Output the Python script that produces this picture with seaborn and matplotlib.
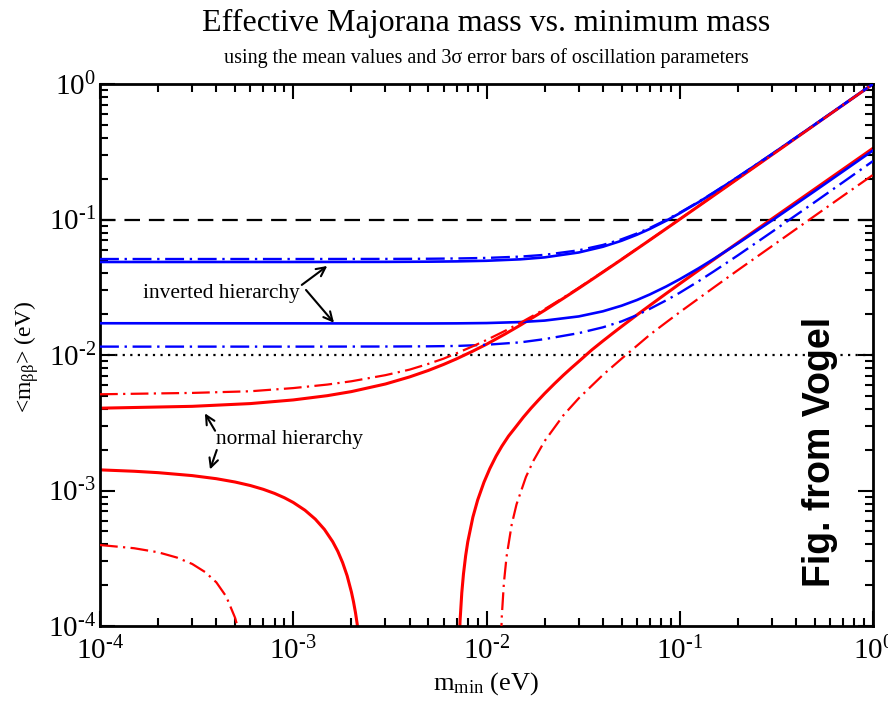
import math
import matplotlib
matplotlib.use("Agg")
import matplotlib.pyplot as plt
from matplotlib.ticker import FuncFormatter, LogLocator
import seaborn as sns

sns.set_theme(style="ticks")
plt.rcParams.update({
    "font.family": ["Liberation Serif", "DejaVu Serif"],
    "mathtext.fontset": "custom",
    "mathtext.rm": "Liberation Serif",
    "mathtext.it": "Liberation Serif:italic",
    "mathtext.bf": "Liberation Serif:bold",
    "axes.unicode_minus": False,
    "text.color": "black",
    "axes.labelcolor": "black",
    "xtick.color": "black",
    "ytick.color": "black",
    "axes.edgecolor": "black",
})

# ---- inverted hierarchy (blue) ----
m_ih = [1e-4, 1e-3, 3e-3, 5e-3, 7e-3, 1e-2, 1.5e-2, 2e-2, 3e-2, 4e-2, 5e-2,
        6e-2, 7e-2, 8.5e-2, 0.1, 0.125, 0.15, 0.2, 0.3, 0.5, 0.7, 1.0]
ih_max = [0.04858, 0.04859, 0.04867, 0.04884, 0.04908, 0.0496, 0.05084, 0.05254,
          0.0571, 0.06293, 0.06971, 0.0772, 0.0852, 0.0979, 0.1112, 0.1341,
          0.1577, 0.2058, 0.3039, 0.5024, 0.7017, 1.0012]
ih_max_3s = [0.05109, 0.0511, 0.05118, 0.05133, 0.05157, 0.05206, 0.05324, 0.05486,
             0.05925, 0.06488, 0.07148, 0.0788, 0.08666, 0.09917, 0.1123, 0.135,
             0.1585, 0.2064, 0.3043, 0.5026, 0.7019, 1.0013]
ih_min = [0.01715, 0.01712, 0.01709, 0.01709, 0.01712, 0.01721, 0.0175, 0.01795,
          0.01926, 0.02101, 0.02311, 0.02545, 0.02798, 0.03201, 0.03625, 0.04359,
          0.05117, 0.06665, 0.09828, 0.16235, 0.2267, 0.3234]
ih_min_3s = [0.01153, 0.01153, 0.01155, 0.01159, 0.01166, 0.0119, 0.0124, 0.0131,
             0.0145, 0.0160, 0.0177, 0.0197, 0.0219, 0.0253, 0.0288, 0.0350,
             0.0414, 0.0544, 0.0810, 0.1345, 0.1885, 0.270]

# ---- normal hierarchy (red) ----
m_nh = [1e-4, 3e-4, 6e-4, 1e-3, 1.5e-3, 2e-3, 3e-3, 4e-3, 5e-3, 6e-3, 7e-3,
        8.5e-3, 1e-2, 1.25e-2, 1.5e-2, 2e-2, 2.5e-2, 3e-2, 4e-2, 5e-2, 7e-2,
        0.1, 0.15, 0.2, 0.3, 0.5, 0.7, 1.0]
nh_max = [0.00405, 0.00418, 0.00438, 0.00466, 0.00501, 0.00537, 0.00611, 0.00689,
          0.00769, 0.00852, 0.00937, 0.01068, 0.0120, 0.0143, 0.01663, 0.02138,
          0.0262, 0.03105, 0.04086, 0.05071, 0.07054, 0.1004, 0.1503, 0.2002,
          0.3001, 0.5001, 0.7, 1.0]
nh_max_3s = [0.00513, 0.00525, 0.0054, 0.0057, 0.00605, 0.0064, 0.0071, 0.0078,
             0.0086, 0.0094, 0.0103, 0.0116, 0.0129, 0.0151, 0.0173, 0.0218,
             0.0265, 0.0313, 0.0411, 0.0509, 0.0707, 0.1006, 0.1505, 0.2004,
             0.3003, 0.5003, 0.7002, 1.0]

# lower bound: falls to zero, then rises again (two branches each)
m_nh_min_a = [1e-4, 1.5e-4, 2e-4, 3e-4, 4e-4, 5e-4, 6e-4, 7e-4, 8e-4, 9e-4,
              1e-3, 1.15e-3, 1.3e-3, 1.45e-3, 1.6e-3, 1.7e-3, 1.8e-3, 1.9e-3,
              2.0e-3, 2.05e-3, 2.1e-3, 2.15e-3, 2.2e-3, 2.25e-3, 2.3e-3,
              2.34e-3, 2.36e-3]
nh_min_a = [1.42e-3, 1.387e-3, 1.354e-3, 1.288e-3, 1.222e-3, 1.155e-3, 1.088e-3,
            1.02e-3, 0.952e-3, 0.884e-3, 0.816e-3, 0.715e-3, 0.615e-3, 0.516e-3,
            0.419e-3, 0.356e-3, 0.294e-3, 0.235e-3, 0.178e-3, 0.151e-3,
            0.125e-3, 0.1e-3, 0.076e-3, 0.053e-3, 0.031e-3, 0.014e-3, 0.006e-3]
m_nh_min_b = [7.05e-3, 7.1e-3, 7.2e-3, 7.3e-3, 7.45e-3, 7.6e-3, 7.8e-3, 8.0e-3,
              8.5e-3, 9.0e-3, 9.7e-3, 1.04e-2, 1.12e-2, 1.2e-2, 1.3e-2, 1.4e-2,
              1.55e-2, 1.7e-2, 1.85e-2, 2.0e-2, 2.25e-2, 2.5e-2, 2.75e-2, 3.0e-2,
              3.5e-2, 4e-2, 4.5e-2, 5e-2, 6e-2, 7e-2, 8.5e-2, 0.1, 0.125, 0.15,
              0.2, 0.3, 0.5, 0.7, 1.0]
nh_min_b = [5e-6, 2.2e-5, 6.6e-5, 1.1e-4, 1.76e-4, 2.42e-4, 3.3e-4, 4.18e-4,
            6.35e-4, 8.5e-4, 1.15e-3, 1.45e-3, 1.79e-3, 2.12e-3, 2.52e-3, 2.88e-3,
            3.47e-3, 4.05e-3, 4.62e-3, 5.2e-3, 6.15e-3, 7.1e-3, 8.03e-3, 8.95e-3,
            0.01088, 0.01268, 0.01446, 0.01623, 0.01974, 0.02322, 0.0284,
            0.03355, 0.0421, 0.0506, 0.0675, 0.1011, 0.1681, 0.2351, 0.3355]

m_nh_min3_a = [1e-4, 1.5e-4, 2e-4, 2.5e-4, 3e-4, 3.5e-4, 4e-4, 4.5e-4, 5e-4,
               5.25e-4, 5.5e-4, 5.75e-4, 5.9e-4, 6.1e-4]
nh_min3_a = [3.96e-4, 3.75e-4, 3.5e-4, 3.2e-4, 2.87e-4, 2.5e-4, 2.1e-4, 1.65e-4,
             1.15e-4, 9e-5, 6.5e-5, 3.8e-5, 2e-5, 3e-6]
m_nh_min3_b = [1.16e-2, 1.18e-2, 1.2e-2, 1.23e-2, 1.27e-2, 1.35e-2, 1.43e-2, 1.6e-2,
               1.75e-2, 2e-2, 2.5e-2, 3e-2, 4e-2, 5e-2, 6e-2, 7e-2, 8.5e-2, 0.1,
               0.15, 0.2, 0.3, 0.5, 0.7, 1.0]
nh_min3_b = [3e-6, 5.7e-5, 1.18e-4, 2.07e-4, 3.25e-4, 5.6e-4, 7.9e-4, 1.26e-3,
             1.66e-3, 2.32e-3, 3.59e-3, 4.79e-3, 7.12e-3, 9.39e-3, 0.0117, 0.0141,
             0.0174, 0.0207, 0.0315, 0.0423, 0.0636, 0.1065, 0.1495, 0.2135]

# experimental sensitivity levels
sens_dashed = 0.1
sens_dotted = 0.01

W, H = 888, 701
fig = plt.figure(figsize=(W / 100, H / 100), dpi=100)
ax = fig.add_axes([100 / W, 1 - 626 / H, 773 / W, 542 / H])

BLUE = "#0000ff"
RED = "#ff0000"
dashdot = (0, (8, 2.4, 1, 2.4))

def curve(x, y, color, lw, ls="-", z=2):
    sns.lineplot(x=x, y=y, ax=ax, color=color, lw=lw, linestyle=ls,
                 estimator=None, sort=False, zorder=z)

curve(m_nh, nh_max, RED, 2.2, z=2)
curve(m_nh_min_a, nh_min_a, RED, 2.2, z=2)
curve(m_nh_min_b, nh_min_b, RED, 2.2, z=2)
curve(m_ih, ih_max, BLUE, 1.9, z=3)
curve(m_ih, ih_min, BLUE, 1.9, z=3)
curve(m_ih, ih_max_3s, BLUE, 1.7, dashdot, z=3)
curve(m_ih, ih_min_3s, BLUE, 1.7, dashdot, z=3)
curve(m_nh, nh_max_3s, RED, 1.6, dashdot, z=4)
curve(m_nh_min3_a, nh_min3_a, RED, 1.6, dashdot, z=4)
curve(m_nh_min3_b, nh_min3_b, RED, 1.6, dashdot, z=4)

ax.axhline(sens_dashed, color="black", lw=1.6, linestyle=(0, (7, 4)), zorder=1)
ax.axhline(sens_dotted, color="black", lw=1.6, linestyle=(0, (1, 2.4)), zorder=1)

ax.set_xscale("log")
ax.set_yscale("log")
ax.set_xlim(1e-4, 1)
ax.set_ylim(1e-4, 1)


def decade_label(v, pos):
    e = int(round(math.log10(v)))
    if e < 0:
        return r"$\mathdefault{10^{\text{-}%d}}$" % (-e)
    return r"$\mathdefault{10^{%d}}$" % e


for axis in (ax.xaxis, ax.yaxis):
    axis.set_major_locator(LogLocator(base=10, numticks=10))
    axis.set_major_formatter(FuncFormatter(decade_label))

for s in ax.spines.values():
    s.set_linewidth(2)
    s.set_color("black")
ax.tick_params(which="both", direction="in", top=True, right=True,
               color="black", width=1.5, labelcolor="black")
ax.tick_params(which="major", length=11, labelsize=21)
ax.tick_params(axis="x", which="major", pad=8)
ax.tick_params(axis="y", which="major", pad=3)
ax.tick_params(which="minor", length=6)
ax.set_xlabel("")
ax.set_ylabel("")

fig.text(486.5 / W, 1 - 31 / H, "Effective Majorana mass vs. minimum mass",
         ha="center", va="baseline", fontsize=23)
fig.text(486.5 / W, 1 - 63.5 / H,
         "using the mean values and 3\u03c3 error bars of oscillation parameters",
         ha="center", va="baseline", fontsize=14.5)
fig.text(486 / W, 1 - 684 / H, r"m$_{\mathrm{min}}$ (eV)", ha="center",
         va="center", fontsize=19)
fig.text(27 / W, 1 - 357 / H, "<m$_{\\mathrm{ββ}}$> (eV)", ha="center",
         va="center", rotation=90, fontsize=17)
fig.text(820 / W, 1 - 452 / H, "Fig. from Vogel", ha="center", va="center",
         rotation=90, fontsize=27, fontweight="bold",
         family=["Liberation Sans", "DejaVu Sans"])

ax.text(4.23e-4, 0.0285, "inverted hierarchy", ha="center", va="center",
        fontsize=15.4)
ax.text(9.62e-4, 2.36e-3, "normal hierarchy", ha="center", va="center",
        fontsize=15.4)
arrow = dict(arrowstyle="->", lw=1.5, color="black", mutation_scale=16,
             shrinkA=0, shrinkB=0)
ax.annotate("", xy=(1.5e-3, 0.0454), xytext=(1.107e-3, 0.0329), arrowprops=arrow)
ax.annotate("", xy=(1.625e-3, 0.0173), xytext=(1.164e-3, 0.0302), arrowprops=arrow)
ax.annotate("", xy=(3.49e-4, 3.71e-3), xytext=(3.94e-4, 2.76e-3), arrowprops=arrow)
ax.annotate("", xy=(3.71e-4, 1.43e-3), xytext=(4.02e-4, 1.99e-3), arrowprops=arrow)

fig.savefig("out.png", dpi=100, facecolor="white")
